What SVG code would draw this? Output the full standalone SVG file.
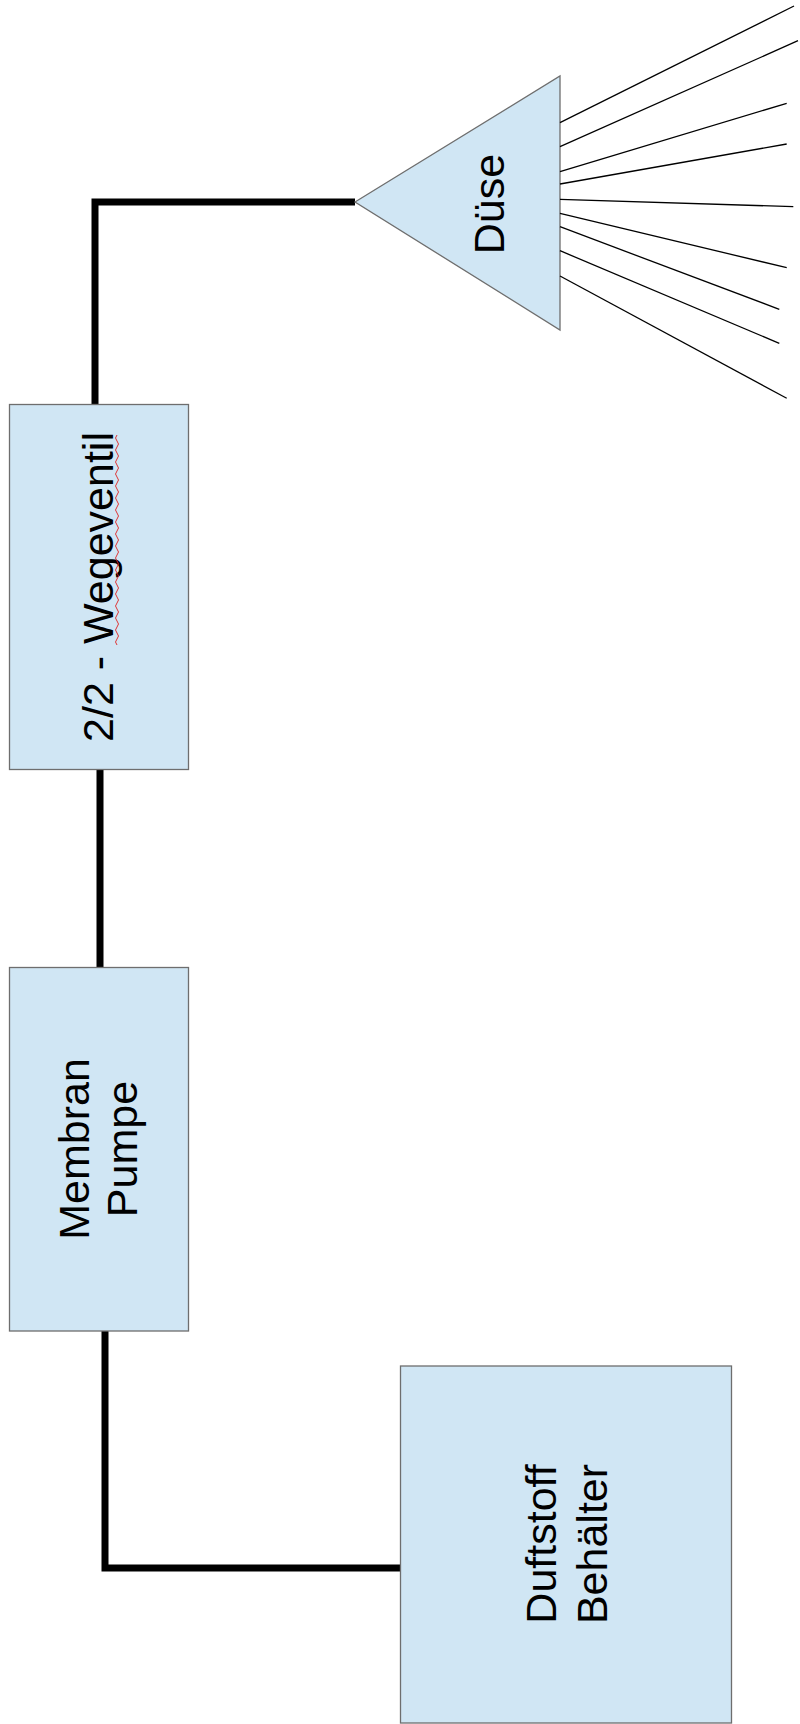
<svg xmlns="http://www.w3.org/2000/svg" width="800" height="1724" viewBox="0 0 800 1724">
<style>
.box{fill:#d0e6f4;stroke:#6e6e6e;stroke-width:1.3}
.lbl{font-family:"Liberation Sans",Arial,sans-serif;font-size:43px;fill:#000;text-anchor:middle}
.pipe{fill:none;stroke:#000;stroke-width:7;stroke-linejoin:miter}
.spray{stroke:#000;stroke-width:1.3;fill:none}
</style>
<rect width="800" height="1724" fill="#fff"/>
<g id="connectors">
<path class="pipe" d="M355,202 H95 V404"/>
<path class="pipe" d="M100,769 V967"/>
<path class="pipe" d="M105,1331 V1568 H400"/>
</g>
<g id="duese">
<polygon class="box" points="355,202 560,76 560,330"/>
<text class="lbl" transform="translate(504,204) rotate(-90)">Düse</text>
<g id="spray">
<line class="spray" x1="560" y1="122.7" x2="794" y2="6"/>
<line class="spray" x1="560" y1="146.7" x2="798" y2="40.7"/>
<line class="spray" x1="560" y1="171.7" x2="786.7" y2="103.3"/>
<line class="spray" x1="560" y1="184" x2="786.7" y2="144"/>
<line class="spray" x1="560" y1="199.3" x2="793.3" y2="206.7"/>
<line class="spray" x1="560" y1="213.3" x2="786.7" y2="267.7"/>
<line class="spray" x1="560" y1="226.7" x2="779.3" y2="309.3"/>
<line class="spray" x1="560" y1="250.7" x2="779.3" y2="343.3"/>
<line class="spray" x1="560" y1="276" x2="786.7" y2="398.3"/>
</g>
</g>
<g id="ventil">
<rect class="box" x="9.5" y="404.5" width="179" height="365"/>
<text class="lbl" transform="translate(113,587) rotate(-90)">2/2 - Wegeventil</text>
<path d="M117,645 l-1.5,-3 l1.5,-3 l1.5,-3 l-1.5,-3 l-1.5,-3 l1.5,-3 l1.5,-3 l-1.5,-3 l-1.5,-3 l1.5,-3 l1.5,-3 l-1.5,-3 l-1.5,-3 l1.5,-3 l1.5,-3 l-1.5,-3 l-1.5,-3 l1.5,-3 l1.5,-3 l-1.5,-3 l-1.5,-3 l1.5,-3 l1.5,-3 l-1.5,-3 l-1.5,-3 l1.5,-3 l1.5,-3 l-1.5,-3 l-1.5,-3 l1.5,-3 l1.5,-3 l-1.5,-3 l-1.5,-3 l1.5,-3 l1.5,-3 l-1.5,-3 l-1.5,-3 l1.5,-3 l1.5,-3 l-1.5,-3 l-1.5,-3 l1.5,-3 l1.5,-3 l-1.5,-3 l-1.5,-3 l1.5,-3 l1.5,-3 l-1.5,-3 l-1.5,-3 l1.5,-3 l1.5,-3 l-1.5,-3 l-1.5,-3 l1.5,-3 l1.5,-3 l-1.5,-3 l-1.5,-3 l1.5,-3 l1.5,-3 l-1.5,-3 l-1.5,-3 l1.5,-3 l1.5,-3 l-1.5,-3 l-1.5,-3 l1.5,-3 l1.5,-3 l-1.5,-3 l-1.5,-3 l1.5,-3" fill="none" stroke="#e02020" stroke-width="0.9"/>
</g>
<g id="pumpe">
<rect class="box" x="9.5" y="967.5" width="179" height="363.5"/>
<text class="lbl" transform="translate(89,1149) rotate(-90)">Membran</text>
<text class="lbl" transform="translate(137,1149) rotate(-90)">Pumpe</text>
</g>
<g id="behaelter">
<rect class="box" x="400.5" y="1366" width="331" height="357"/>
<text class="lbl" transform="translate(556,1544) rotate(-90)">Duftstoff</text>
<text class="lbl" transform="translate(607,1544) rotate(-90)">Behälter</text>
</g>
</svg>
